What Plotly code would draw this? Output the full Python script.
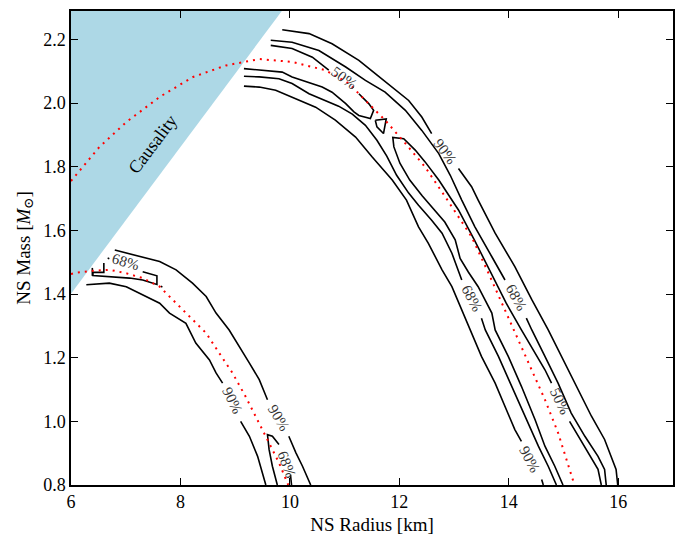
import plotly.graph_objects as go

# ---------------- data ----------------
# causality limit: the shaded region lies above this line
causal_R = [6.0, 9.90]
causal_M = [1.401, 2.30]
mass_top = 2.289

# mass-radius curves of two equations of state (red dotted)
eos_hi_R = [6.0, 6.05, 6.52, 7.01, 7.62, 8.22, 8.83, 9.44, 10.04, 10.65, 11.08, 11.38, 11.74,
            12.11, 12.47, 12.84, 13.08, 13.32, 13.63, 13.93, 14.17, 14.42, 14.66, 14.90, 15.14, 15.20]
eos_hi_M = [1.755, 1.765, 1.862, 1.940, 2.019, 2.081, 2.118, 2.138, 2.129, 2.103, 2.061, 2.008, 1.946,
            1.873, 1.799, 1.705, 1.643, 1.580, 1.465, 1.350, 1.256, 1.162, 1.068, 0.964, 0.828, 0.80]
eos_lo_R = [6.0, 6.10, 6.40, 6.71, 7.01, 7.31, 7.62, 7.92, 8.22, 8.47, 8.71, 8.95, 9.19, 9.44,
            9.62, 9.80, 9.92, 9.97]
eos_lo_M = [1.463, 1.467, 1.473, 1.476, 1.465, 1.450, 1.423, 1.371, 1.319, 1.277, 1.214, 1.152,
            1.078, 0.995, 0.932, 0.870, 0.817, 0.80]

# --- credible-region contours, high-mass solution ---
hi90_outer_a_R = [9.86, 10.35, 10.77, 11.26, 11.56, 11.87, 12.17, 12.41, 12.59]
hi90_outer_a_M = [2.230, 2.218, 2.186, 2.134, 2.092, 2.050, 2.008, 1.956, 1.904]
hi90_outer_b_R = [13.08, 13.32, 13.44, 13.75, 14.11, 14.42, 14.72, 14.96, 15.27, 15.51, 15.75, 15.87, 15.96, 15.99]
hi90_outer_b_M = [1.794, 1.737, 1.695, 1.591, 1.486, 1.382, 1.287, 1.204, 1.099, 1.016, 0.943, 0.890, 0.849, 0.80]

hi68_outer_a_R = [9.65, 10.04, 10.53, 11.02, 11.38, 11.74, 12.11, 12.41, 12.72, 12.93, 13.14, 13.38, 13.69, 13.93]
hi68_outer_a_M = [2.197, 2.191, 2.165, 2.113, 2.071, 2.034, 1.977, 1.914, 1.841, 1.773, 1.695, 1.611, 1.517, 1.444]
hi68_outer_b_R = [14.32, 14.42, 14.66, 14.90, 15.14, 15.39, 15.63, 15.75, 15.78]
hi68_outer_b_M = [1.324, 1.287, 1.204, 1.120, 1.026, 0.953, 0.890, 0.849, 0.80]

hi50_top_a_R = [9.65, 10.04, 10.41, 10.71]
hi50_top_a_M = [2.181, 2.171, 2.144, 2.103]
hi50_top_b_R = [11.26, 11.35, 11.44, 11.53, 11.47, 11.26, 11.17, 11.02, 10.77, 10.59, 10.04, 9.86, 9.44, 9.16]
hi50_top_b_M = [2.029, 2.014, 1.998, 1.977, 1.951, 1.961, 1.972, 1.998, 2.034, 2.050, 2.082, 2.097, 2.105, 2.108]

hi50_island_R = [11.56, 11.76, 11.71, 11.59, 11.56]
hi50_island_M = [1.946, 1.950, 1.904, 1.925, 1.946]

hi50_low_a_R = [14.99, 14.84, 14.66, 14.48, 14.23, 13.99, 13.75, 13.69, 13.44, 13.26, 13.11, 13.02, 12.83,
                12.64, 12.42, 12.19, 12.01, 11.90, 11.88, 12.08, 12.29, 12.47, 12.72, 12.90, 13.08,
                13.37, 13.66, 13.95, 14.23, 14.48, 14.66, 14.78]
hi50_low_a_M = [0.80, 0.859, 0.922, 1.005, 1.110, 1.204, 1.287, 1.340, 1.423, 1.469, 1.512, 1.570, 1.626,
                1.664, 1.708, 1.758, 1.811, 1.862, 1.892, 1.888, 1.852, 1.815, 1.758, 1.711, 1.664,
                1.570, 1.469, 1.372, 1.287, 1.214, 1.162, 1.120]
hi50_low_b_R = [15.11, 15.27, 15.51, 15.63, 15.69]
hi50_low_b_M = [1.000, 0.953, 0.880, 0.849, 0.80]

hi68_inner_a_R = [9.16, 9.44, 9.80, 10.04, 10.35, 10.65, 10.89, 11.14, 11.38, 11.59, 11.77, 11.95,
                  12.17, 12.35, 12.59, 12.78, 12.96, 13.14]
hi68_inner_a_M = [2.084, 2.082, 2.076, 2.061, 2.029, 2.008, 1.990, 1.965, 1.930, 1.883, 1.833, 1.773,
                  1.717, 1.679, 1.632, 1.591, 1.528, 1.444]
hi68_inner_b_R = [13.50, 13.57, 13.81, 14.05, 14.30, 14.54, 14.72, 14.87]
hi68_inner_b_M = [1.324, 1.287, 1.204, 1.110, 1.016, 0.922, 0.859, 0.80]

hi90_inner_a_R = [9.16, 9.44, 9.74, 10.04, 10.47, 10.83, 11.20, 11.50, 11.87, 12.13, 12.35, 12.53,
                  12.78, 12.96, 13.14, 13.32, 13.50, 13.75, 13.93, 14.11, 14.23]
hi90_inner_a_M = [2.053, 2.050, 2.040, 2.019, 1.987, 1.946, 1.893, 1.831, 1.758, 1.695, 1.611, 1.559,
                  1.476, 1.423, 1.350, 1.277, 1.204, 1.120, 1.047, 0.974, 0.937]
hi90_inner_b_R = [14.60, 14.63]
hi90_inner_b_M = [0.817, 0.80]

# --- credible-region contours, low-mass solution ---
lo90_outer_a_R = [6.80, 7.31, 7.62, 7.92, 8.22, 8.47, 8.65, 8.89, 9.10, 9.26, 9.44, 9.59]
lo90_outer_a_M = [1.538, 1.517, 1.502, 1.476, 1.434, 1.392, 1.340, 1.287, 1.230, 1.183, 1.131, 1.068]
lo90_outer_b_R = [9.98, 10.11, 10.23, 10.38]
lo90_outer_b_M = [0.953, 0.901, 0.859, 0.80]

lo90_inner_a_R = [6.28, 6.70, 7.01, 7.31, 7.62, 7.80, 8.10, 8.28, 8.53, 8.65, 8.77]
lo90_inner_a_M = [1.429, 1.434, 1.423, 1.397, 1.371, 1.340, 1.308, 1.246, 1.193, 1.152, 1.120]
lo90_inner_b_R = [9.10, 9.26, 9.41, 9.50, 9.56]
lo90_inner_b_M = [1.000, 0.953, 0.890, 0.838, 0.80]

lo68_top_R = [7.31, 7.52, 7.57, 7.57, 7.43, 7.31, 7.07, 6.70, 6.40, 6.40, 6.60, 6.60]
lo68_top_M = [1.470, 1.461, 1.457, 1.430, 1.438, 1.444, 1.450, 1.455, 1.458, 1.468, 1.468, 1.497]
lo68_tick_R = [6.39, 6.39]
lo68_tick_M = [1.482, 1.457]
lo68_bits_R = [[6.67, 6.70], [7.64, 7.67]]
lo68_bits_M = [[1.513, 1.511], [1.424, 1.422]]

lo68_bot_a_R = [9.77, 9.68, 9.62, 9.59, 9.68, 9.80]
lo68_bot_a_M = [0.80, 0.859, 0.911, 0.958, 0.953, 0.927]
lo68_bot_b_R = [10.01, 10.03]
lo68_bot_b_M = [0.833, 0.80]

# contour labels
label_text = ["90%", "68%", "68%", "50%", "50%", "90%", "68%", "90%", "90%", "68%"]
label_R = [12.84, 13.32, 14.14, 10.99, 14.93, 14.39, 7.01, 8.95, 9.80, 9.95]
label_M = [1.846, 1.387, 1.387, 2.077, 1.063, 0.880, 1.502, 1.063, 1.011, 0.864]
label_rot = [53, 62, 61, 36, 64, 62, 16, 64, 59, 70]

x_ticks = [6, 8, 10, 12, 14, 16]
y_ticks = [0.8, 1.0, 1.2, 1.4, 1.6, 1.8, 2.0, 2.2]

# ---------------- figure ----------------
SERIF = "Liberation Serif, DejaVu Serif, serif"
fig = go.Figure()

fig.add_trace(go.Scatter(
    x=[causal_R[0], causal_R[1], causal_R[0]],
    y=[causal_M[0], causal_M[1], causal_M[1]],
    fill="toself", fillcolor="#add8e6", line=dict(width=0),
    mode="lines", hoverinfo="skip"))

contour_segments = [
    (hi90_outer_a_R, hi90_outer_a_M), (hi90_outer_b_R, hi90_outer_b_M),
    (hi68_outer_a_R, hi68_outer_a_M), (hi68_outer_b_R, hi68_outer_b_M),
    (hi50_top_a_R, hi50_top_a_M), (hi50_top_b_R, hi50_top_b_M),
    (hi50_island_R, hi50_island_M),
    (hi50_low_a_R, hi50_low_a_M), (hi50_low_b_R, hi50_low_b_M),
    (hi68_inner_a_R, hi68_inner_a_M), (hi68_inner_b_R, hi68_inner_b_M),
    (hi90_inner_a_R, hi90_inner_a_M), (hi90_inner_b_R, hi90_inner_b_M),
    (lo90_outer_a_R, lo90_outer_a_M), (lo90_outer_b_R, lo90_outer_b_M),
    (lo90_inner_a_R, lo90_inner_a_M), (lo90_inner_b_R, lo90_inner_b_M),
    (lo68_top_R, lo68_top_M), (lo68_tick_R, lo68_tick_M),
    (lo68_bot_a_R, lo68_bot_a_M), (lo68_bot_b_R, lo68_bot_b_M),
] + list(zip(lo68_bits_R, lo68_bits_M))

for xs, ys in contour_segments:
    fig.add_trace(go.Scatter(x=xs, y=ys, mode="lines",
                             line=dict(color="black", width=1.6),
                             hoverinfo="skip"))

for xs, ys in [(eos_hi_R, eos_hi_M), (eos_lo_R, eos_lo_M)]:
    fig.add_trace(go.Scatter(x=xs, y=ys, mode="lines",
                             line=dict(color="red", width=2, dash="2px,5px"),
                             hoverinfo="skip"))

for t, r, m, a in zip(label_text, label_R, label_M, label_rot):
    fig.add_annotation(x=r, y=m, text=t, textangle=a, showarrow=False,
                       xanchor="center", yanchor="middle",
                       font=dict(family=SERIF, size=15, color="#333333"))

fig.add_annotation(x=7.5, y=1.87, text="Causality", textangle=-53, showarrow=False,
                   xanchor="center", yanchor="middle",
                   font=dict(family=SERIF, size=18, color="black"))

axis_common = dict(showline=True, linecolor="black", linewidth=1.5, mirror="ticks",
                   ticks="inside", ticklen=7, tickwidth=1.2, tickcolor="black",
                   showgrid=False, zeroline=False,
                   tickfont=dict(family=SERIF, size=18, color="black"))

fig.update_xaxes(range=[6, 17], tickvals=x_ticks,
                 ticktext=[str(v) for v in x_ticks],
                 title=dict(text="NS Radius [km]", standoff=6,
                            font=dict(family=SERIF, size=19, color="black")),
                 **axis_common)
fig.update_yaxes(range=[0.8, mass_top], tickvals=y_ticks,
                 ticktext=[f"{v:.1f}" for v in y_ticks],
                 title=dict(text="NS Mass [<i>M</i><sub>⊙</sub>]", standoff=8,
                            font=dict(family=SERIF, size=19, color="black")),
                 **axis_common)

fig.update_layout(width=678, height=535, showlegend=False,
                  plot_bgcolor="white", paper_bgcolor="white",
                  margin=dict(l=71, r=3, t=11, b=50))

fig.write_html("out.html")
